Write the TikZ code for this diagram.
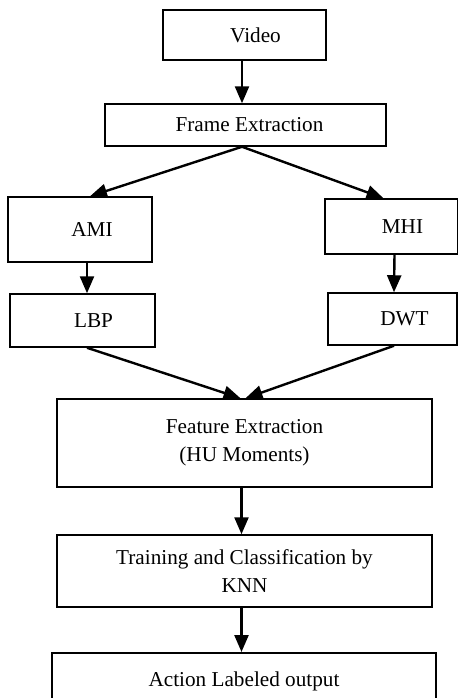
\documentclass[tikz,border=0pt]{standalone}
\usepackage{fontspec}
\setmainfont{Liberation Serif}
\usetikzlibrary{arrows.meta}
\begin{document}
\begin{tikzpicture}[x=0.5pt,y=-0.5pt,
  box/.style={draw, line width=0.75pt, inner sep=2pt, font=\fontsize{10.6}{14}\selectfont},
  shifted/.style={execute at begin node={\hspace*{#1}}},
  flow/.style={-{Triangle[length=8.5pt,width=7pt]}, line width=1.2pt}]
\useasboundingbox (0,0) rectangle (458,698);
\node[box, shifted=11pt, minimum width=81.5pt, minimum height=25pt] (video) at (244.5,35) {Video};
\node[box, shifted=4pt, minimum width=140.5pt, minimum height=21pt] (frame) at (245.5,125) {Frame Extraction};
\node[box, shifted=12pt, minimum width=72pt, minimum height=32.5pt] (ami) at (80,229.5) {AMI};
\node[box, shifted=11pt, minimum width=66.5pt, minimum height=27.5pt] (mhi) at (391.5,226.5) {MHI};
\node[box, shifted=11pt, minimum width=72.5pt, minimum height=26.5pt] (lbp) at (82.5,320.5) {LBP};
\node[box, shifted=12pt, minimum width=64.5pt, minimum height=26pt] (dwt) at (392.5,319) {DWT};
\node[box, align=center, minimum width=187.5pt, minimum height=44pt] (feature) at (244.5,443) {Feature Extraction\\(HU Moments)};
\node[box, align=center, minimum width=187.5pt, minimum height=36pt] (train) at (244.5,571) {Training and Classification by\\KNN};
\node[box, anchor=north, minimum width=192pt, minimum height=28.5pt] (action) at (244,652) {Action Labeled output};
\draw[flow] ([xshift=-1.25pt]video.south) -- ([xshift=-1.75pt]frame.north);
\draw[flow] ([xshift=-1.75pt]frame.south) -- ([xshift=5pt]ami.north);
\draw[flow] ([xshift=-1.75pt]frame.south) -- ([xshift=-4pt]mhi.north);
\draw[flow] ([xshift=3.5pt]ami.south) -- ([xshift=2.25pt]lbp.north);
\draw[flow] ([xshift=1.5pt]mhi.south) -- ([xshift=0.75pt]dwt.north);
\draw[flow] ([xshift=2.25pt]lbp.south) -- ([xshift=-2pt]feature.north);
\draw[flow] ([xshift=0.75pt]dwt.south) -- ([xshift=0.5pt]feature.north);
\draw[flow] ([xshift=-1.5pt]feature.south) -- ([xshift=-1.5pt]train.north);
\draw[flow] ([xshift=-1.5pt]train.south) -- ([xshift=-1.25pt]action.north);
\end{tikzpicture}
\end{document}
